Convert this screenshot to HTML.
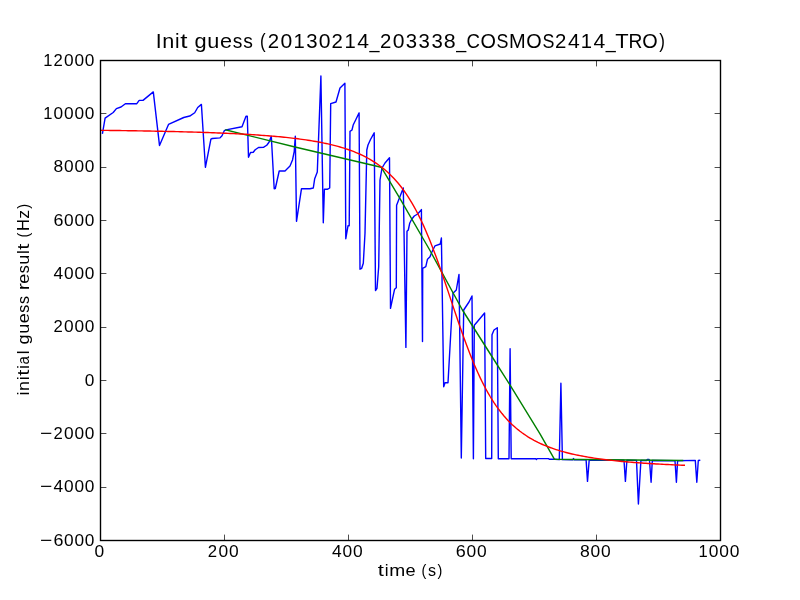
<!DOCTYPE html>
<html><head><meta charset="utf-8"><style>
html,body{margin:0;padding:0;background:#fff;width:800px;height:600px;overflow:hidden}
svg{display:block;will-change:transform}
text{font-family:"Liberation Sans",sans-serif;fill:#000}
</style></head><body>
<svg width="800" height="600" viewBox="0 0 800 600">
<rect x="0" y="0" width="800" height="600" fill="#fff"/>
<g fill="none" stroke-linejoin="round" stroke-linecap="square" stroke-width="1.4">
<polyline stroke="#0000ff" points="102.50,133.30 105.10,118.10 113.20,112.50 116.40,108.60 121.00,107.00 125.40,103.70 136.80,103.70 139.20,100.40 143.00,100.40 153.30,91.90 159.50,145.45 168.50,124.45 183.75,117.50 189.75,116.05 194.70,112.75 197.70,107.50 201.40,104.40 205.40,167.30 210.90,139.20 212.30,138.50 220.00,137.90 222.00,135.70 224.30,130.70 226.00,129.90 242.00,126.70 246.00,116.30 247.30,116.30 248.50,157.20 250.50,152.50 253.25,152.30 255.20,149.75 258.50,147.50 263.75,147.20 266.75,145.25 269.00,142.25 271.30,136.30 274.20,188.70 275.30,188.50 279.20,171.00 285.00,171.00 290.00,166.00 292.50,160.00 294.20,151.70 295.30,136.30 296.50,221.30 301.50,188.70 310.00,188.70 313.30,188.00 314.70,178.70 317.30,172.00 320.90,76.00 323.30,222.70 324.40,189.30 327.30,189.30 329.70,188.00 330.70,103.60 336.00,102.00 340.00,88.00 344.90,83.30 345.80,238.70 348.00,225.80 349.20,225.80 350.00,131.30 352.00,130.00 353.30,124.70 356.00,119.30 359.10,112.90 360.00,269.20 361.70,268.30 363.30,263.30 365.00,233.30 366.80,150.00 368.00,145.00 370.50,139.50 374.20,132.80 375.50,290.50 377.00,288.30 378.70,266.70 380.00,180.00 382.00,168.00 385.00,163.00 389.50,157.80 390.50,308.40 394.60,289.20 396.30,287.80 396.60,205.30 403.30,188.00 405.90,347.40 407.00,231.30 408.30,230.00 409.70,223.30 411.70,219.30 414.30,216.00 417.70,214.00 421.40,209.60 422.50,341.60 422.70,268.30 425.80,266.70 427.50,259.20 430.00,256.70 431.70,252.50 435.00,245.80 440.30,244.00 441.40,238.00 443.70,386.70 445.00,382.70 448.00,382.70 453.00,293.30 456.30,290.00 459.00,274.40 461.30,458.00 463.70,310.00 469.00,302.00 472.00,296.00 473.40,458.70 474.30,325.30 477.70,321.30 484.60,313.00 485.70,458.50 491.70,458.50 492.00,334.70 494.00,330.00 497.30,327.70 498.30,458.70 509.00,458.70 510.10,348.80 511.20,458.70 535.50,458.60 536.40,459.50 537.30,458.60 548.50,458.60 549.30,459.20 555.00,459.20 559.30,459.64 560.90,383.20 562.40,459.67 572.70,459.77 573.50,458.50 574.30,459.79 586.10,459.90 587.50,481.40 589.20,459.93 624.00,460.25 625.40,481.40 626.90,460.28 636.50,460.37 638.40,504.00 640.90,460.41 646.50,460.46 647.30,459.40 649.00,459.40 649.50,460.49 651.10,482.20 652.30,460.52 675.00,460.73 676.40,482.20 677.60,460.75 695.30,460.40 696.80,482.20 698.30,460.50 699.60,460.30"/>
<polyline stroke="#008000" points="226.00,129.90 296.00,147.30 381.20,167.20 400.00,198.70 430.00,250.50 462.40,310.00 490.00,353.50 512.70,389.30 540.00,433.80 554.50,459.30 682.60,460.50"/>
<polyline stroke="#ff0000" points="100.70,130.32 102.00,130.33 104.00,130.36 106.00,130.38 108.00,130.41 110.00,130.43 112.00,130.46 114.00,130.48 116.00,130.51 118.00,130.54 120.00,130.57 122.00,130.60 124.00,130.62 126.00,130.65 128.00,130.68 130.00,130.72 132.00,130.75 134.00,130.78 136.00,130.81 138.00,130.85 140.00,130.88 142.00,130.91 144.00,130.95 146.00,130.99 148.00,131.02 150.00,131.06 152.00,131.10 154.00,131.14 156.00,131.18 158.00,131.22 160.00,131.26 162.00,131.30 164.00,131.34 166.00,131.39 168.00,131.43 170.00,131.48 172.00,131.53 174.00,131.57 176.00,131.62 178.00,131.67 180.00,131.72 182.00,131.78 184.00,131.83 186.00,131.88 188.00,131.94 190.00,132.00 192.00,132.05 194.00,132.11 196.00,132.17 198.00,132.24 200.00,132.30 202.00,132.37 204.00,132.43 206.00,132.50 208.00,132.57 210.00,132.64 212.00,132.72 214.00,132.79 216.00,132.87 218.00,132.95 220.00,133.03 222.00,133.11 224.00,133.20 226.00,133.28 228.00,133.37 230.00,133.47 232.00,133.56 234.00,133.66 236.00,133.76 238.00,133.86 240.00,133.96 242.00,134.07 244.00,134.18 246.00,134.30 248.00,134.41 250.00,134.53 252.00,134.66 254.00,134.78 256.00,134.91 258.00,135.05 260.00,135.19 262.00,135.33 264.00,135.48 266.00,135.63 268.00,135.78 270.00,135.94 272.00,136.11 274.00,136.28 276.00,136.45 278.00,136.64 280.00,136.82 282.00,137.02 284.00,137.22 286.00,137.42 288.00,137.64 290.00,137.86 292.00,138.08 294.00,138.32 296.00,138.56 298.00,138.81 300.00,139.08 302.00,139.35 304.00,139.63 306.00,139.92 308.00,140.22 310.00,140.53 312.00,140.85 314.00,141.19 316.00,141.54 318.00,141.90 320.00,142.28 322.00,142.67 324.00,143.07 326.00,143.50 328.00,143.94 330.00,144.40 332.00,144.87 334.00,145.37 336.00,145.89 338.00,146.43 340.00,147.00 342.00,147.58 344.00,148.20 346.00,148.84 348.00,149.51 350.00,150.22 352.00,150.95 354.00,151.72 356.00,152.53 358.00,153.37 360.00,154.26 362.00,155.19 364.00,156.16 366.00,157.18 368.00,158.25 370.00,159.38 372.00,160.56 374.00,161.81 376.00,163.12 378.00,164.50 380.00,165.95 382.00,167.47 384.00,169.08 386.00,170.77 388.00,172.56 390.00,174.44 392.00,176.42 394.00,178.50 396.00,180.70 398.00,183.02 400.00,185.47 402.00,188.04 404.00,190.76 406.00,193.61 408.00,196.62 410.00,199.78 412.00,203.10 414.00,206.59 416.00,210.25 418.00,214.08 420.00,218.09 422.00,222.28 424.00,226.65 426.00,231.20 428.00,235.93 430.00,240.83 432.00,245.90 434.00,251.13 436.00,256.51 438.00,262.03 440.00,267.67 442.00,273.42 444.00,279.26 446.00,285.17 448.00,291.13 450.00,297.13 452.00,303.12 454.00,309.11 456.00,315.05 458.00,320.94 460.00,326.75 462.00,332.47 464.00,338.07 466.00,343.54 468.00,348.87 470.00,354.04 472.00,359.06 474.00,363.90 476.00,368.57 478.00,373.06 480.00,377.37 482.00,381.49 484.00,385.44 486.00,389.22 488.00,392.82 490.00,396.25 492.00,399.51 494.00,402.62 496.00,405.57 498.00,408.38 500.00,411.04 502.00,413.57 504.00,415.97 506.00,418.25 508.00,420.41 510.00,422.46 512.00,424.41 514.00,426.25 516.00,428.01 518.00,429.67 520.00,431.25 522.00,432.75 524.00,434.17 526.00,435.52 528.00,436.81 530.00,438.03 532.00,439.20 534.00,440.31 536.00,441.36 538.00,442.37 540.00,443.32 542.00,444.24 544.00,445.11 546.00,445.94 548.00,446.73 550.00,447.49 552.00,448.21 554.00,448.90 556.00,449.57 558.00,450.20 560.00,450.81 562.00,451.39 564.00,451.94 566.00,452.48 568.00,452.99 570.00,453.48 572.00,453.95 574.00,454.40 576.00,454.84 578.00,455.25 580.00,455.65 582.00,456.04 584.00,456.41 586.00,456.77 588.00,457.11 590.00,457.44 592.00,457.76 594.00,458.07 596.00,458.37 598.00,458.66 600.00,458.93 602.00,459.20 604.00,459.46 606.00,459.71 608.00,459.95 610.00,460.18 612.00,460.41 614.00,460.62 616.00,460.83 618.00,461.04 620.00,461.24 622.00,461.43 624.00,461.61 626.00,461.79 628.00,461.97 630.00,462.13 632.00,462.30 634.00,462.46 636.00,462.61 638.00,462.76 640.00,462.91 642.00,463.05 644.00,463.18 646.00,463.32 648.00,463.45 650.00,463.57 652.00,463.69 654.00,463.81 656.00,463.93 658.00,464.04 660.00,464.15 662.00,464.26 664.00,464.36 666.00,464.46 668.00,464.56 670.00,464.66 672.00,464.75 674.00,464.84 676.00,464.93 678.00,465.02 680.00,465.10 682.00,465.18 684.30,465.28"/>
</g>
<g stroke="#000" stroke-width="0.7" fill="none">
<path d="M100.5,60.5h5.9M720.5,60.5h-5.9"/><path d="M100.5,113.5h5.9M720.5,113.5h-5.9"/><path d="M100.5,167.5h5.9M720.5,167.5h-5.9"/><path d="M100.5,220.5h5.9M720.5,220.5h-5.9"/><path d="M100.5,273.5h5.9M720.5,273.5h-5.9"/><path d="M100.5,327.5h5.9M720.5,327.5h-5.9"/><path d="M100.5,380.5h5.9M720.5,380.5h-5.9"/><path d="M100.5,433.5h5.9M720.5,433.5h-5.9"/><path d="M100.5,487.5h5.9M720.5,487.5h-5.9"/><path d="M100.5,540.5h5.9M720.5,540.5h-5.9"/><path d="M100.5,540.5v-5.9M100.5,60.5v5.9"/><path d="M224.5,540.5v-5.9M224.5,60.5v5.9"/><path d="M348.5,540.5v-5.9M348.5,60.5v5.9"/><path d="M472.5,540.5v-5.9M472.5,60.5v5.9"/><path d="M596.5,540.5v-5.9M596.5,60.5v5.9"/><path d="M720.5,540.5v-5.9M720.5,60.5v5.9"/>
</g>
<rect x="100.5" y="60.5" width="620" height="480" fill="none" stroke="#000" stroke-width="1.39"/>
<g>
<g font-size="17.0"><text transform="translate(48.08,66.00) scale(0.971,1)" x="-4.96">1</text><text transform="translate(58.15,66.00) scale(0.980,1)" x="-4.73">2</text><text transform="translate(68.80,66.00) scale(1.017,1)" x="-4.73">0</text><text transform="translate(79.23,66.00) scale(1.017,1)" x="-4.73">0</text><text transform="translate(89.67,66.00) scale(1.017,1)" x="-4.73">0</text></g>
<g font-size="17.0"><text transform="translate(48.08,119.00) scale(0.971,1)" x="-4.96">1</text><text transform="translate(58.36,119.00) scale(1.017,1)" x="-4.73">0</text><text transform="translate(68.80,119.00) scale(1.017,1)" x="-4.73">0</text><text transform="translate(79.23,119.00) scale(1.017,1)" x="-4.73">0</text><text transform="translate(89.67,119.00) scale(1.017,1)" x="-4.73">0</text></g>
<g font-size="17.0"><text transform="translate(58.36,172.00) scale(1.028,1)" x="-4.73">8</text><text transform="translate(68.80,172.00) scale(1.017,1)" x="-4.73">0</text><text transform="translate(79.23,172.00) scale(1.017,1)" x="-4.73">0</text><text transform="translate(89.67,172.00) scale(1.017,1)" x="-4.73">0</text></g>
<g font-size="17.0"><text transform="translate(58.42,226.00) scale(1.053,1)" x="-4.79">6</text><text transform="translate(68.80,226.00) scale(1.017,1)" x="-4.73">0</text><text transform="translate(79.23,226.00) scale(1.017,1)" x="-4.73">0</text><text transform="translate(89.67,226.00) scale(1.017,1)" x="-4.73">0</text></g>
<g font-size="17.0"><text transform="translate(58.31,279.00) scale(1.017,1)" x="-4.67">4</text><text transform="translate(68.80,279.00) scale(1.017,1)" x="-4.73">0</text><text transform="translate(79.23,279.00) scale(1.017,1)" x="-4.73">0</text><text transform="translate(89.67,279.00) scale(1.017,1)" x="-4.73">0</text></g>
<g font-size="17.0"><text transform="translate(58.15,332.00) scale(0.980,1)" x="-4.73">2</text><text transform="translate(68.80,332.00) scale(1.017,1)" x="-4.73">0</text><text transform="translate(79.23,332.00) scale(1.017,1)" x="-4.73">0</text><text transform="translate(89.67,332.00) scale(1.017,1)" x="-4.73">0</text></g>
<g font-size="17.0"><text transform="translate(89.67,386.00) scale(1.017,1)" x="-4.73">0</text></g>
<g font-size="17.0"><text transform="translate(46.28,439.00) scale(1.243,1)" x="-4.97">−</text><text transform="translate(58.15,439.00) scale(0.980,1)" x="-4.73">2</text><text transform="translate(68.80,439.00) scale(1.017,1)" x="-4.73">0</text><text transform="translate(79.23,439.00) scale(1.017,1)" x="-4.73">0</text><text transform="translate(89.67,439.00) scale(1.017,1)" x="-4.73">0</text></g>
<g font-size="17.0"><text transform="translate(46.28,492.00) scale(1.243,1)" x="-4.97">−</text><text transform="translate(58.31,492.00) scale(1.017,1)" x="-4.67">4</text><text transform="translate(68.80,492.00) scale(1.017,1)" x="-4.73">0</text><text transform="translate(79.23,492.00) scale(1.017,1)" x="-4.73">0</text><text transform="translate(89.67,492.00) scale(1.017,1)" x="-4.73">0</text></g>
<g font-size="17.0"><text transform="translate(46.28,546.00) scale(1.243,1)" x="-4.97">−</text><text transform="translate(58.42,546.00) scale(1.053,1)" x="-4.79">6</text><text transform="translate(68.80,546.00) scale(1.017,1)" x="-4.73">0</text><text transform="translate(79.23,546.00) scale(1.017,1)" x="-4.73">0</text><text transform="translate(89.67,546.00) scale(1.017,1)" x="-4.73">0</text></g>
<g font-size="17.0"><text transform="translate(99.30,556.80) scale(1.023,1)" x="-4.73">0</text></g>
<g font-size="17.0"><text transform="translate(212.52,556.80) scale(0.986,1)" x="-4.73">2</text><text transform="translate(223.24,556.80) scale(1.023,1)" x="-4.73">0</text><text transform="translate(233.74,556.80) scale(1.023,1)" x="-4.73">0</text></g>
<g font-size="17.0"><text transform="translate(336.89,556.80) scale(1.023,1)" x="-4.67">4</text><text transform="translate(347.44,556.80) scale(1.023,1)" x="-4.73">0</text><text transform="translate(357.94,556.80) scale(1.023,1)" x="-4.73">0</text></g>
<g font-size="17.0"><text transform="translate(460.83,556.80) scale(1.059,1)" x="-4.79">6</text><text transform="translate(471.27,556.80) scale(1.023,1)" x="-4.73">0</text><text transform="translate(481.77,556.80) scale(1.023,1)" x="-4.73">0</text></g>
<g font-size="17.0"><text transform="translate(584.79,556.80) scale(1.034,1)" x="-4.73">8</text><text transform="translate(595.28,556.80) scale(1.023,1)" x="-4.73">0</text><text transform="translate(605.78,556.80) scale(1.023,1)" x="-4.73">0</text></g>
<g font-size="17.0"><text transform="translate(703.34,556.80) scale(0.977,1)" x="-4.96">1</text><text transform="translate(713.69,556.80) scale(1.023,1)" x="-4.73">0</text><text transform="translate(724.19,556.80) scale(1.023,1)" x="-4.73">0</text><text transform="translate(734.68,556.80) scale(1.023,1)" x="-4.73">0</text></g>
<g font-size="17.0"><text transform="translate(380.97,575.80) scale(1.300,1)" x="-2.43">t</text><text transform="translate(386.59,575.80) scale(1.012,1)" x="-1.88">i</text><text transform="translate(397.18,575.80) scale(1.128,1)" x="-7.08">m</text><text transform="translate(410.52,575.80) scale(1.070,1)" x="-4.71">e</text><text transform="translate(424.37,575.80) scale(0.850,1)" x="-3.31">(</text><text transform="translate(432.04,575.80) scale(0.949,1)" x="-4.18">s</text><text transform="translate(439.61,575.80) scale(0.850,1)" x="-2.35">)</text></g>
<g font-size="17.0"><text transform="translate(28.90,393.55) rotate(-90) scale(1.004,1)" x="-1.88">i</text><text transform="translate(28.90,385.89) rotate(-90) scale(1.059,1)" x="-4.74">n</text><text transform="translate(28.90,378.33) rotate(-90) scale(1.004,1)" x="-1.88">i</text><text transform="translate(28.90,372.71) rotate(-90) scale(1.300,1)" x="-2.43">t</text><text transform="translate(28.90,367.14) rotate(-90) scale(1.004,1)" x="-1.88">i</text><text transform="translate(28.90,359.96) rotate(-90) scale(0.883,1)" x="-5.09">a</text><text transform="translate(28.90,352.27) rotate(-90) scale(1.004,1)" x="-1.89">l</text><text transform="translate(28.90,339.64) rotate(-90) scale(1.068,1)" x="-4.54">g</text><text transform="translate(28.90,328.80) rotate(-90) scale(1.059,1)" x="-4.71">u</text><text transform="translate(28.90,318.30) rotate(-90) scale(1.061,1)" x="-4.71">e</text><text transform="translate(28.90,308.79) rotate(-90) scale(0.942,1)" x="-4.18">s</text><text transform="translate(28.90,300.09) rotate(-90) scale(0.942,1)" x="-4.18">s</text><text transform="translate(28.90,286.28) rotate(-90) scale(1.259,1)" x="-3.25">r</text><text transform="translate(28.90,278.82) rotate(-90) scale(1.061,1)" x="-4.71">e</text><text transform="translate(28.90,269.30) rotate(-90) scale(0.942,1)" x="-4.18">s</text><text transform="translate(28.90,259.76) rotate(-90) scale(1.059,1)" x="-4.71">u</text><text transform="translate(28.90,252.09) rotate(-90) scale(1.004,1)" x="-1.89">l</text><text transform="translate(28.90,246.48) rotate(-90) scale(1.300,1)" x="-2.43">t</text><text transform="translate(28.90,234.61) rotate(-90) scale(0.850,1)" x="-3.31">(</text><text transform="translate(28.90,225.12) rotate(-90) scale(0.977,1)" x="-6.14">H</text><text transform="translate(28.90,214.46) rotate(-90) scale(1.053,1)" x="-4.17">z</text><text transform="translate(28.90,206.87) rotate(-90) scale(0.850,1)" x="-2.35">)</text></g>
<g font-size="20.0"><text transform="translate(158.79,47.80) scale(1.062,1)" x="-2.78">I</text><text transform="translate(168.17,47.80) scale(1.082,1)" x="-5.58">n</text><text transform="translate(177.27,47.80) scale(1.026,1)" x="-2.22">i</text><text transform="translate(184.02,47.80) scale(1.300,1)" x="-2.86">t</text><text transform="translate(200.32,47.80) scale(1.091,1)" x="-5.34">g</text><text transform="translate(213.36,47.80) scale(1.082,1)" x="-5.55">u</text><text transform="translate(225.98,47.80) scale(1.084,1)" x="-5.54">e</text><text transform="translate(237.42,47.80) scale(0.962,1)" x="-4.92">s</text><text transform="translate(247.88,47.80) scale(0.962,1)" x="-4.92">s</text><text transform="translate(263.41,47.80) scale(0.850,1)" x="-3.89">(</text><text transform="translate(273.39,47.80) scale(1.020,1)" x="-5.56">2</text><text transform="translate(286.43,47.80) scale(1.058,1)" x="-5.56">0</text><text transform="translate(299.38,47.80) scale(1.011,1)" x="-5.83">1</text><text transform="translate(311.94,47.80) scale(1.016,1)" x="-5.50">3</text><text transform="translate(324.75,47.80) scale(1.058,1)" x="-5.56">0</text><text transform="translate(337.26,47.80) scale(1.020,1)" x="-5.56">2</text><text transform="translate(350.48,47.80) scale(1.011,1)" x="-5.83">1</text><text transform="translate(363.01,47.80) scale(1.058,1)" x="-5.50">4</text><text transform="translate(374.49,47.80) scale(0.895,1)" x="-5.52">_</text><text transform="translate(385.62,47.80) scale(1.020,1)" x="-5.56">2</text><text transform="translate(398.66,47.80) scale(1.058,1)" x="-5.56">0</text><text transform="translate(411.40,47.80) scale(1.016,1)" x="-5.50">3</text><text transform="translate(424.18,47.80) scale(1.016,1)" x="-5.50">3</text><text transform="translate(436.95,47.80) scale(1.016,1)" x="-5.50">3</text><text transform="translate(449.76,47.80) scale(1.070,1)" x="-5.56">8</text><text transform="translate(461.17,47.80) scale(0.895,1)" x="-5.52">_</text><text transform="translate(473.22,47.80) scale(0.932,1)" x="-7.35">C</text><text transform="translate(488.12,47.80) scale(0.992,1)" x="-7.77">O</text><text transform="translate(502.49,47.80) scale(0.895,1)" x="-6.67">S</text><text transform="translate(517.43,47.80) scale(1.001,1)" x="-8.33">M</text><text transform="translate(533.99,47.80) scale(0.992,1)" x="-7.77">O</text><text transform="translate(548.37,47.80) scale(0.895,1)" x="-6.67">S</text><text transform="translate(560.75,47.80) scale(1.020,1)" x="-5.56">2</text><text transform="translate(573.72,47.80) scale(1.058,1)" x="-5.50">4</text><text transform="translate(586.75,47.80) scale(1.011,1)" x="-5.83">1</text><text transform="translate(599.27,47.80) scale(1.058,1)" x="-5.50">4</text><text transform="translate(610.75,47.80) scale(0.895,1)" x="-5.52">_</text><text transform="translate(621.90,47.80) scale(1.095,1)" x="-6.10">T</text><text transform="translate(635.71,47.80) scale(0.960,1)" x="-7.58">R</text><text transform="translate(649.89,47.80) scale(0.992,1)" x="-7.77">O</text><text transform="translate(661.65,47.80) scale(0.850,1)" x="-2.77">)</text></g>
</g>
</svg>
</body></html>
